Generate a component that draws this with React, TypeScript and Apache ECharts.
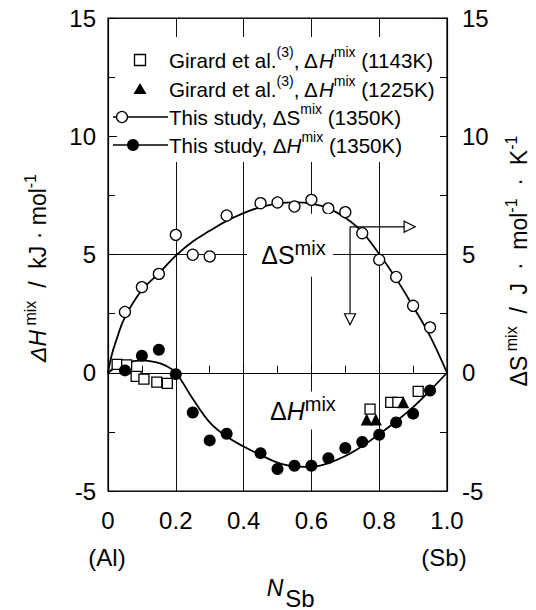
import React, { useEffect, useRef } from 'react';
import * as echarts from 'echarts';

const FONT = '"Liberation Sans", Arial, Helvetica, sans-serif';

// ---- data (mole fraction N_Sb, values) ----
// ΔS^mix, this study (1350K) [J/mol/K]
const sN = [0.05, 0.1, 0.15, 0.2, 0.25, 0.3, 0.35, 0.45, 0.5, 0.55, 0.6, 0.65, 0.7, 0.75, 0.8, 0.85, 0.9, 0.95];
const sVal = [2.57, 3.62, 4.18, 5.83, 4.99, 4.92, 6.65, 7.17, 7.2, 7.03, 7.31, 6.95, 6.79, 5.9, 4.78, 4.05, 2.83, 1.92];
// ΔH^mix, this study (1350K) [kJ/mol]
const hN = [0.05, 0.1, 0.15, 0.2, 0.25, 0.3, 0.35, 0.45, 0.5, 0.55, 0.6, 0.65, 0.7, 0.75, 0.8, 0.85, 0.9, 0.95];
const hVal = [0.1, 0.72, 0.97, -0.06, -1.68, -2.86, -2.58, -3.4, -4.07, -3.93, -3.93, -3.61, -3.18, -2.93, -2.62, -2.1, -1.73, -0.75];
// Girard et al. ΔH^mix (1143K)
const g1N = [0.027, 0.055, 0.083, 0.106, 0.144, 0.175, 0.773, 0.834, 0.855, 0.915];
const g1H = [0.35, 0.33, -0.15, -0.27, -0.4, -0.45, -1.54, -1.25, -1.25, -0.79];
// Girard et al. ΔH^mix (1225K)
const g2N = [0.763, 0.79, 0.871];
const g2H = [-1.98, -1.98, -1.25];
// fitted curves
const sCurveN = [0, 0.01, 0.025, 0.05, 0.1, 0.15, 0.2, 0.25, 0.3, 0.35, 0.4, 0.45, 0.5, 0.55, 0.6, 0.65, 0.7, 0.75, 0.8, 0.85, 0.9, 0.95, 1];
const sCurveV = [0, 0.7, 1.4, 2.35, 3.5, 4.2, 4.95, 5.55, 6.0, 6.42, 6.75, 7.0, 7.15, 7.2, 7.15, 6.95, 6.55, 5.95, 5.02, 3.98, 2.8, 1.55, 0];
const hCurveN = [0, 0.03, 0.06, 0.1, 0.14, 0.17, 0.2, 0.25, 0.3, 0.35, 0.4, 0.45, 0.5, 0.55, 0.6, 0.65, 0.7, 0.75, 0.8, 0.85, 0.9, 0.95, 1];
const hCurveV = [0, 0.3, 0.45, 0.52, 0.45, 0.3, 0, -1.1, -2.1, -2.7, -3.12, -3.48, -3.8, -3.96, -3.98, -3.82, -3.52, -3.1, -2.6, -2.05, -1.45, -0.75, 0];
// arrows (from ΔS curve to the right axis, and down)
const arrowStart = [0.714, 6.17];
const arrowRightEnd = [0.906, 6.17];
const arrowDownEnd = [0.714, 2.03];
// axis ticks
const yTicks = [-5, 0, 5, 10, 15];
const xTicks = [0, 0.2, 0.4, 0.6, 0.8, 1.0];

const zip = (a: number[], b: number[]) => a.map((x, i) => [x, b[i]]);

export default function App() {
  const ref = useRef<HTMLDivElement>(null);
  useEffect(() => {
    document.body.style.margin = '0';
    const chart = echarts.init(ref.current!, null, { renderer: 'svg' });
    const black = '#000';
    const axisCommon = {
      type: 'value',
      axisLine: { show: true, lineStyle: { color: black, width: 1.2 } },
      axisTick: { show: true, inside: true, length: 8, lineStyle: { color: black, width: 1 } },
      minorTick: { show: true, splitNumber: 2, length: 7, lineStyle: { color: black, width: 1 } },
    };
    const lbl = { color: black, fontSize: 24, fontFamily: FONT };
    const legendRich = {
      t: { fontSize: 20.6, lineHeight: 30, fontFamily: FONT, fill: black },
      i: { fontSize: 20.6, lineHeight: 30, fontFamily: FONT, fontStyle: 'italic', fill: black },
      s: { fontSize: 14, lineHeight: 8, fontFamily: FONT, verticalAlign: 'top', fill: black },
    };
    const nameRich = {
      m: { fontSize: 23, lineHeight: 32, fontFamily: FONT, fill: black },
      mi: { fontSize: 23, lineHeight: 32, fontFamily: FONT, fontStyle: 'italic', fill: black },
      s: { fontSize: 16, lineHeight: 12, fontFamily: FONT, verticalAlign: 'top', fill: black },
    };
    const Z = 100;
    const legendRows = [
      '{t|Girard et al.}{s|(3)}{t|, Δ}{i|H}{s|mix}{t| (1143K)}',
      '{t|Girard et al.}{s|(3)}{t|, Δ}{i|H}{s|mix}{t| (1225K)}',
      '{t|This study, ΔS}{s|mix}{t| (1350K)}',
      '{t|This study, Δ}{i|H}{s|mix}{t| (1350K)}',
    ];
    const rowY = [60, 89, 117, 145];
    const graphic: any[] = [
      { type: 'rect', z: Z, shape: { x: 117, y: 37, width: 323, height: 125 }, style: { fill: '#fff' } },
      { type: 'rect', z: Z, shape: { x: 134.5, y: rowY[0] - 5.5, width: 11, height: 11 }, style: { fill: '#fff', stroke: black, lineWidth: 1.3 } },
      { type: 'polygon', z: Z, shape: { points: [[140, rowY[1] - 6], [146.5, rowY[1] + 5], [133.5, rowY[1] + 5]] }, style: { fill: black } },
      { type: 'line', z: Z, shape: { x1: 113, y1: rowY[2], x2: 168, y2: rowY[2] }, style: { stroke: black, lineWidth: 1.5 } },
      { type: 'circle', z: Z + 1, shape: { cx: 122, cy: rowY[2], r: 5.5 }, style: { fill: '#fff', stroke: black, lineWidth: 1.3 } },
      { type: 'line', z: Z, shape: { x1: 113, y1: rowY[3], x2: 168, y2: rowY[3] }, style: { stroke: black, lineWidth: 1.5 } },
      { type: 'circle', z: Z + 1, shape: { cx: 133, cy: rowY[3], r: 6 }, style: { fill: black } },
      ...legendRows.map((t, i) => ({
        type: 'text', z: Z, x: 169, y: rowY[i],
        style: { text: t, rich: legendRich, fontFamily: FONT, fontSize: 20, fill: black, verticalAlign: 'middle', align: 'left' },
      })),
      {
        type: 'text', x: 38, y: 268, rotation: Math.PI / 2,
        style: { text: '{mi|ΔH}{s| mix}{m|  /  kJ · mol}{s|-1}', rich: nameRich, fontFamily: FONT, fontSize: 23, fill: black, align: 'center', verticalAlign: 'middle' },
      },
      {
        type: 'text', x: 519, y: 261, rotation: Math.PI / 2,
        style: { text: '{m|ΔS}{s| mix}{m|  /  J  ·  mol}{s|-1}{m|  ·  K}{s|-1}', rich: nameRich, fontFamily: FONT, fontSize: 23, fill: black, align: 'center', verticalAlign: 'middle' },
      },
      { type: 'text', x: 107, y: 557, style: { text: '(Al)', fontFamily: FONT, fontSize: 24, fill: black, align: 'center', verticalAlign: 'middle' } },
      { type: 'text', x: 444, y: 557, style: { text: '(Sb)', fontFamily: FONT, fontSize: 24, fill: black, align: 'center', verticalAlign: 'middle' } },
      { type: 'text', x: 275, y: 588, style: { text: 'N', fontFamily: FONT, fontSize: 23, fontStyle: 'italic', fill: black, align: 'center', verticalAlign: 'middle' } },
      { type: 'text', x: 300, y: 598, style: { text: 'Sb', fontFamily: FONT, fontSize: 24, fill: black, align: 'center', verticalAlign: 'middle' } },
    ];

    const labelRich = {
      g: { fontSize: 25, lineHeight: 34, fontFamily: FONT, color: black },
      gi: { fontSize: 25, lineHeight: 34, fontFamily: FONT, fontStyle: 'italic', color: black },
      s: { fontSize: 20, lineHeight: 24, fontFamily: FONT, verticalAlign: 'top', color: black },
    };

    const option: any = {
      animation: false,
      backgroundColor: '#fff',
      textStyle: { fontFamily: FONT },
      grid: { left: 108, top: 18, width: 339, height: 473, show: true, borderColor: black, borderWidth: 1.2, backgroundColor: 'transparent' },
      xAxis: [{
        ...axisCommon, min: 0, max: 1, interval: 0.2, position: 'bottom',
        splitLine: { show: true, lineStyle: { color: '#111', width: 1 } },
        axisLabel: { ...lbl, margin: 17, customValues: xTicks, formatter: (v: number) => (v === 0 ? '0' : v.toFixed(1)) },
      }],
      yAxis: [
        {
          ...axisCommon, min: -5, max: 15, interval: 5, position: 'left',
          splitLine: { show: true, lineStyle: { color: '#111', width: 1 } },
          axisLabel: { ...lbl, margin: 12, customValues: yTicks },
        },
        {
          ...axisCommon, min: -5, max: 15, interval: 5, position: 'right',
          splitLine: { show: false },
          axisLabel: { ...lbl, margin: 15, customValues: yTicks },
        },
      ],
      series: [
        {
          name: 'ΔS curve', type: 'line', yAxisIndex: 1, data: zip(sCurveN, sCurveV), smooth: 0.4, symbol: 'none', z: 2,
          lineStyle: { color: black, width: 1.8 },
          markPoint: {
            silent: true,
            data: [
              { coord: [0.537, 5.39], symbol: 'rect', symbolSize: [86, 63], itemStyle: { color: '#fff' }, label: { show: false } },
              {
                coord: [0.547, 5.0], symbol: 'circle', symbolSize: 1, itemStyle: { color: 'transparent' },
                label: { show: true, position: 'inside', formatter: '{g|ΔS}{s|mix}', rich: labelRich },
              },
            ],
          },
        },
        {
          name: 'ΔH curve', type: 'line', yAxisIndex: 0, data: zip(hCurveN, hCurveV), smooth: 0.4, symbol: 'none', z: 2,
          lineStyle: { color: black, width: 1.8 },
          markPoint: {
            silent: true,
            data: [
              { coord: [0.57, -1.6], symbol: 'rect', symbolSize: [76, 38], itemStyle: { color: '#fff' }, label: { show: false } },
              {
                coord: [0.575, -1.62], symbol: 'circle', symbolSize: 1, itemStyle: { color: 'transparent' },
                label: { show: true, position: 'inside', formatter: '{g|Δ}{gi|H}{s|mix}', rich: labelRich },
              },
            ],
          },
        },
        {
          name: 'arrow right', type: 'line', yAxisIndex: 1, data: [arrowStart, arrowRightEnd], symbol: 'none', z: 2,
          lineStyle: { color: black, width: 1.2 },
        },
        {
          name: 'arrow down', type: 'line', yAxisIndex: 1, data: [arrowStart, arrowDownEnd], symbol: 'none', z: 2,
          lineStyle: { color: black, width: 1.2 },
        },
        {
          name: 'arrow heads', type: 'scatter', yAxisIndex: 1, z: 4,
          symbol: 'triangle', symbolSize: [11, 11],
          itemStyle: { color: '#fff', borderColor: black, borderWidth: 1.2, opacity: 1 },
          data: [
            { value: arrowRightEnd, symbolRotate: -90, symbolOffset: [-5.5, 0] },
            { value: arrowDownEnd, symbolRotate: 180, symbolOffset: [0, -5.5] },
          ],
        },
        {
          name: 'Girard 1143K', type: 'scatter', yAxisIndex: 0, z: 4, data: zip(g1N, g1H),
          symbol: 'rect', symbolSize: 10, itemStyle: { color: '#fff', borderColor: black, borderWidth: 1.3, opacity: 1 },
        },
        {
          name: 'Girard 1225K', type: 'scatter', yAxisIndex: 0, z: 4, data: zip(g2N, g2H),
          symbol: 'triangle', symbolSize: 12, itemStyle: { color: black, opacity: 1 },
        },
        {
          name: 'This study ΔS', type: 'scatter', yAxisIndex: 1, z: 4, data: zip(sN, sVal),
          symbol: 'circle', symbolSize: 11, itemStyle: { color: '#fff', borderColor: black, borderWidth: 1.3, opacity: 1 },
        },
        {
          name: 'This study ΔH', type: 'scatter', yAxisIndex: 0, z: 4, data: zip(hN, hVal),
          symbol: 'circle', symbolSize: 12, itemStyle: { color: black, opacity: 1 },
        },
      ],
      graphic,
    };
    chart.setOption(option);
    return () => chart.dispose();
  }, []);
  return <div ref={ref} style={{ position: 'absolute', left: 0, top: 0, width: 536, height: 610 }} />;
}
